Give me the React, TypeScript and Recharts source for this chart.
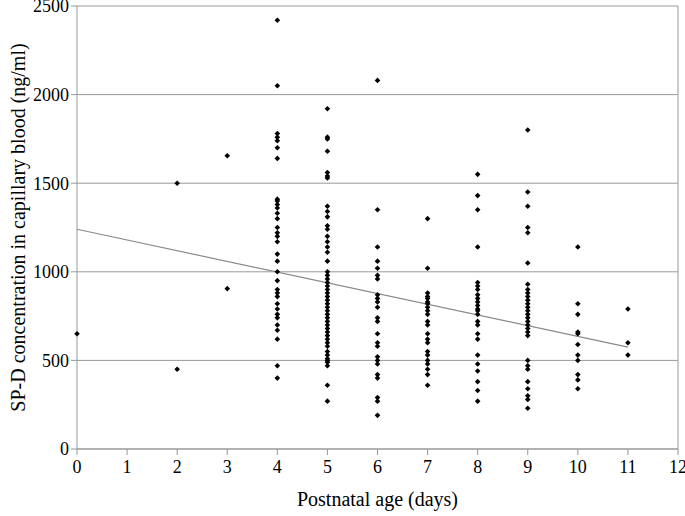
import React from 'react';
import {
  ScatterChart,
  Scatter,
  XAxis,
  YAxis,
  CartesianGrid,
  ReferenceLine,
} from 'recharts';

// SP-D values (ng/ml) read per postnatal day
const day0 = [650];
const day2 = [1500, 450];
const day3 = [1655, 905];
const day4 = [2420, 2050, 1780, 1760, 1740, 1700, 1640, 1410, 1400, 1380, 1360, 1330, 1300, 1250, 1220, 1200, 1170, 1100, 1060, 1000, 950, 900, 880, 860, 820, 790, 760, 740, 700, 670, 620, 470, 400];
const day5 = [1920, 1760, 1750, 1680, 1560, 1540, 1530, 1370, 1340, 1310, 1260, 1240, 1200, 1170, 1140, 1110, 1060, 1000, 980, 960, 940, 920, 900, 880, 860, 840, 820, 800, 780, 760, 740, 720, 700, 680, 660, 640, 620, 600, 580, 550, 530, 510, 500, 490, 470, 360, 270];
const day6 = [2080, 1350, 1140, 1060, 1020, 980, 960, 870, 850, 830, 800, 740, 720, 650, 600, 580, 520, 500, 480, 420, 400, 290, 270, 190];
const day7 = [1300, 1020, 880, 860, 850, 830, 820, 800, 780, 760, 720, 700, 650, 620, 600, 550, 530, 500, 480, 450, 420, 360];
const day8 = [1550, 1430, 1350, 1140, 940, 920, 900, 870, 850, 830, 810, 790, 780, 760, 720, 700, 650, 620, 530, 480, 440, 380, 330, 270];
const day9 = [1800, 1450, 1370, 1250, 1220, 1050, 930, 900, 880, 860, 840, 820, 800, 780, 760, 740, 720, 700, 680, 660, 640, 500, 470, 450, 380, 340, 300, 280, 230];
const day10 = [1140, 820, 760, 660, 650, 590, 530, 500, 420, 390, 340];
const day11 = [790, 600, 530];

const days = [0, 2, 3, 4, 5, 6, 7, 8, 9, 10, 11];
const valuesByDay = [day0, day2, day3, day4, day5, day6, day7, day8, day9, day10, day11];

// regression line end points
const trendX = [0, 11];
const trendY = [1240, 575];

const xTicks = [0, 1, 2, 3, 4, 5, 6, 7, 8, 9, 10, 11, 12];
const yTicks = [0, 500, 1000, 1500, 2000, 2500];

const points = days.flatMap((d, i) => valuesByDay[i].map((v) => ({ x: d, y: v })));
const trend = trendX.map((x, i) => ({ x, y: trendY[i] }));

const Diamond = (props: any) => {
  const { cx, cy } = props;
  if (cx == null || cy == null) return null;
  const r = 2.8;
  return (
    <polygon
      points={`${cx},${cy - r} ${cx + r},${cy} ${cx},${cy + r} ${cx - r},${cy}`}
      fill="#000"
    />
  );
};

const font = 'Liberation Serif';

export default function App() {
  return (
    <div style={{ position: 'absolute', left: 0, top: 0, background: '#fff', fontFamily: font }}>
      <style>{`.recharts-wrapper text { font-family: 'Liberation Serif', serif !important; }`}</style>
      <ScatterChart
        width={685}
        height={516}
        margin={{ top: 6, right: 7, bottom: 0, left: 0 }}
      >
        <CartesianGrid vertical={false} stroke="#999" strokeWidth={1} />
        <XAxis
          type="number"
          dataKey="x"
          domain={[0, 12]}
          ticks={xTicks}
          interval={0}
          height={67}
          stroke="#999"
          tickLine={{ stroke: '#999' }}
          tickSize={6}
          tick={{ fill: '#000', fontSize: 18, dy: 3 }}
          label={{
            value: 'Postnatal age (days)',
            position: 'insideBottom',
            offset: 10,
            style: { fill: '#000', fontSize: 20 },
          }}
        />
        <YAxis
          type="number"
          dataKey="y"
          domain={[0, 2500]}
          ticks={yTicks}
          interval={0}
          width={77}
          stroke="#999"
          tickLine={{ stroke: '#999' }}
          tickSize={6}
          tick={{ fill: '#000', fontSize: 18 }}
          label={{
            value: 'SP-D concentration in capillary blood (ng/ml)',
            angle: -90,
            position: 'insideLeft',
            offset: 18,
            style: { textAnchor: 'middle', fill: '#000', fontSize: 20 },
          }}
        />
        <ReferenceLine x={12} stroke="#999" />
        <Scatter
          data={trend}
          line={{ stroke: '#8a8a8a', strokeWidth: 1.2 }}
          shape={() => null}
          isAnimationActive={false}
        />
        <Scatter data={points} shape={Diamond} isAnimationActive={false} />
      </ScatterChart>
    </div>
  );
}
